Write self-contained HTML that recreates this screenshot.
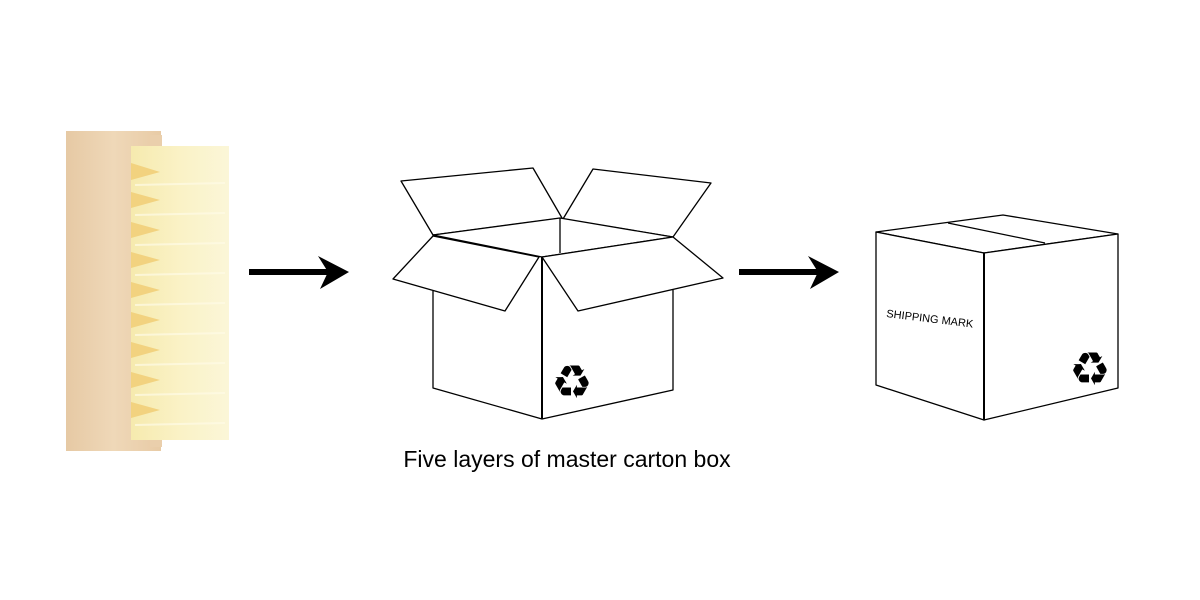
<!DOCTYPE html>
<html><head><meta charset="utf-8"><style>
html,body{margin:0;padding:0;background:#fff;width:1200px;height:600px;overflow:hidden}
svg{display:block}
</style></head><body>
<svg width="1200" height="600" viewBox="0 0 1200 600" xmlns="http://www.w3.org/2000/svg">
<defs>
<linearGradient id="wood" x1="0" x2="1" y1="0" y2="0">
<stop offset="0" stop-color="#e6c9a4"/><stop offset="0.5" stop-color="#efd8b8"/><stop offset="1" stop-color="#e8cba6"/>
</linearGradient>
<linearGradient id="bris" x1="0" x2="1" y1="0" y2="0">
<stop offset="0" stop-color="#f6eaae"/><stop offset="0.5" stop-color="#faf2c6"/><stop offset="1" stop-color="#fbf6d8"/>
</linearGradient>
</defs>
<!-- brush -->
<rect x="66" y="131" width="95" height="320" fill="url(#wood)"/>
<rect x="150" y="135" width="12" height="312" fill="#eacfac"/>
<rect x="131" y="146" width="98" height="294" fill="url(#bris)"/>
<g fill="#f2d27f">
<path d="M131 163 L160 172 L131 180Z"/><path d="M131 192 L160 200 L131 208Z"/><path d="M131 222 L160 230 L131 238Z"/>
<path d="M131 252 L160 260 L131 268Z"/><path d="M131 282 L160 290 L131 298Z"/><path d="M131 312 L160 320 L131 328Z"/>
<path d="M131 342 L160 350 L131 358Z"/><path d="M131 372 L160 380 L131 388Z"/><path d="M131 402 L160 410 L131 418Z"/>
</g>
<g stroke="#fffbe6" stroke-width="2" opacity="0.7">
<line x1="135" y1="185" x2="225" y2="183"/><line x1="135" y1="215" x2="225" y2="213"/><line x1="135" y1="245" x2="225" y2="243"/>
<line x1="135" y1="275" x2="225" y2="273"/><line x1="135" y1="305" x2="225" y2="303"/><line x1="135" y1="335" x2="225" y2="333"/>
<line x1="135" y1="365" x2="225" y2="363"/><line x1="135" y1="395" x2="225" y2="393"/><line x1="135" y1="425" x2="225" y2="423"/>
</g>
<!-- arrows -->
<g fill="#000">
<rect x="249" y="269" width="80" height="6"/><path d="M349 272 L318 256 L328 272 L320 289Z"/>
<rect x="739" y="269" width="80" height="6"/><path d="M839 272 L808 256 L818 272 L810 289Z"/>
</g>
<!-- open box -->
<g fill="#fff" stroke="#000" stroke-width="1.3" stroke-linejoin="round">
<path d="M433 291 L433 388 L542 419 L673 390 L673 290"/>
<path d="M401 181 L533 168 L562 218 L433 235Z"/>
<path d="M593 169 L711 183 L673 237 L563 219Z"/>
<path d="M433 235 L560 218 L673 237 L542 257Z"/>
<line x1="560" y1="218" x2="560" y2="253"/>
<path d="M433 236 L393 279 L505 311 L539 257Z"/>
<path d="M542 257 L673 237 L723 278 L578 311Z"/>
<line x1="542" y1="257" x2="542" y2="419" stroke-width="2"/>
</g>
<text x="572" y="398" font-family="DejaVu Sans, sans-serif" font-size="46" text-anchor="middle" fill="#000">♻</text>
<text x="567" y="467" font-family="Liberation Sans, Arial, sans-serif" font-size="23" text-anchor="middle" fill="#000">Five layers of master carton box</text>
<!-- closed box -->
<g fill="#fff" stroke="#000" stroke-width="1.3" stroke-linejoin="round">
<path d="M876 232 L1003 215 L1118 234 L984 253Z"/>
<line x1="948" y1="223" x2="1045" y2="243"/>
<path d="M876 232 L876 385 L984 420 L984 253Z"/>
<path d="M984 253 L1118 234 L1118 388 L984 420Z"/>
<line x1="984" y1="253" x2="984" y2="420" stroke-width="2"/>
</g>
<text x="886" y="317" font-family="Liberation Sans, Arial, sans-serif" font-size="11" fill="#000" transform="rotate(7 886 317)">SHIPPING MARK</text>
<text x="1090" y="385" font-family="DejaVu Sans, sans-serif" font-size="46" text-anchor="middle" fill="#000">♻</text>
</svg>
</body></html>
